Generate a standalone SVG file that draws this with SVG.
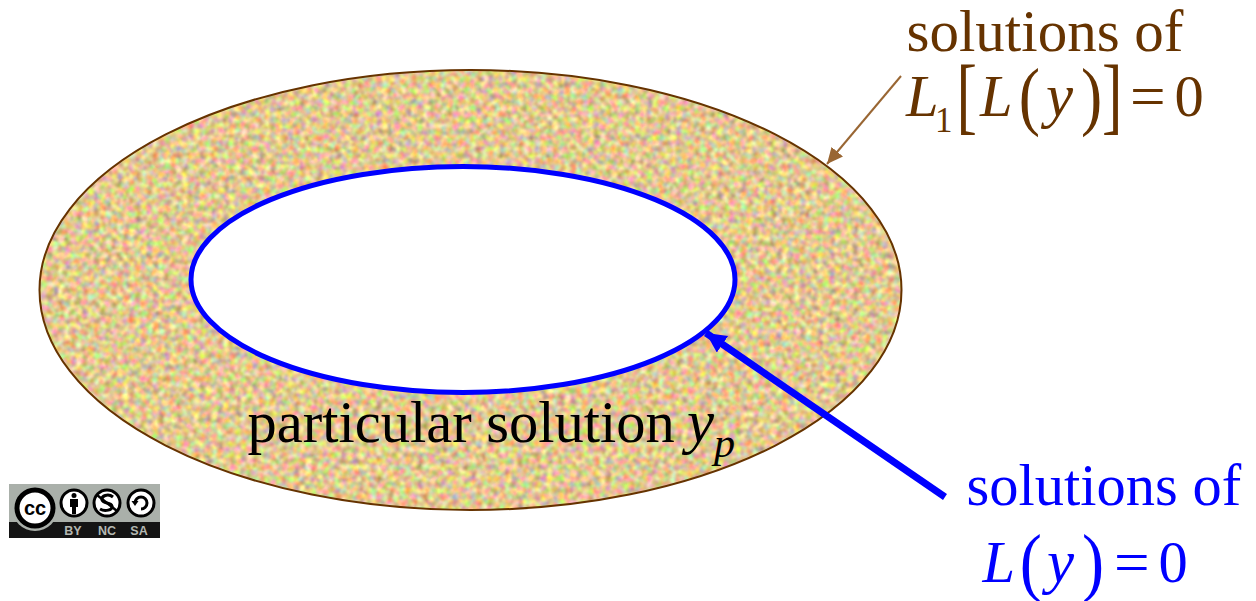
<svg xmlns="http://www.w3.org/2000/svg" width="1256" height="601" viewBox="0 0 1256 601">
<style>
text{font-family:"Liberation Serif","Times New Roman",serif}
.t{font-size:58.5px}
.w{font-size:59px}
.i{font-style:italic}
.v{font-size:61px;font-style:italic}
.f{font-size:58px}
.br{fill:#663300}
.bl{fill:#0000ff}
.cc{font-family:"Liberation Sans",Arial,sans-serif;font-size:12.500px;font-weight:700;fill:#b4b8b2;text-anchor:middle}
.ring{fill:#fff;stroke:#000;stroke-width:3}
</style>
<defs>
<filter id="noise" x="0" y="0" width="1" height="1" color-interpolation-filters="sRGB">
<feTurbulence type="fractalNoise" baseFrequency="0.17" numOctaves="2" seed="7" result="n"/>
<feGaussianBlur in="n" stdDeviation="1" result="b"/>
<feColorMatrix in="b" type="matrix" values="0.85 0 0 0 0.46  0 0.85 0 0 0.36  0 0 0.85 0 0.14  0 0 0 0 1" result="c"/>
<feComposite in="c" in2="SourceAlpha" operator="in"/>
</filter>
<marker id="ah-br" markerUnits="userSpaceOnUse" markerWidth="18" markerHeight="16" refX="16" refY="7.5" orient="auto"><path d="M0 0L16 7.5L0 15Z" fill="#996633"/></marker>
<marker id="ah-bl" markerUnits="userSpaceOnUse" markerWidth="22" markerHeight="22" refX="20" refY="10" orient="auto"><path d="M0 0L20 10L0 20Z" fill="#0000ff"/></marker>
</defs>
<g id="outer-set">
<ellipse cx="470.5" cy="290" rx="431" ry="220" fill="#d8c080" filter="url(#noise)"/>
<ellipse cx="470.5" cy="290" rx="431" ry="220" fill="none" stroke="#663300" stroke-width="2"/>
</g>
<g id="inner-set">
<ellipse cx="463" cy="279.500" rx="272" ry="113" fill="#fff" stroke="#0000ff" stroke-width="5"/>
</g>
<g id="connectors">
<line x1="901" y1="76" x2="827" y2="164" stroke="#996633" stroke-width="2" marker-end="url(#ah-br)"/>
<line x1="945" y1="497" x2="706" y2="333" stroke="#0000ff" stroke-width="7" marker-end="url(#ah-bl)"/>
</g>
<g id="label-particular">
<text class="t" x="247.500" y="442">particular solution</text>
<text class="v" x="687" y="442">y</text>
<text class="i" x="714" y="457" font-size="42">p</text>
</g>
<g id="label-outer" class="br">
<text class="w" x="906.500" y="51">solutions of</text>
<text class="t i" x="906" y="116">L</text>
<text x="935" y="132" font-size="35">1</text>
<text class="f" transform="translate(956.600 123.700) scale(1.06 1.47)">[</text>
<text class="t i" x="980" y="116">L</text>
<text class="f" transform="translate(1018.800 120.500) scale(1.1 1.31)">(</text>
<text class="v" x="1046" y="116">y</text>
<text class="f" transform="translate(1081 120.500) scale(1.1 1.31)">)</text>
<text class="f" transform="translate(1102 123.700) scale(1.06 1.47)">]</text>
<text class="t" transform="translate(1130 116) scale(1.08 1)">=</text>
<text class="t" x="1174.500" y="116">0</text>
</g>
<g id="label-inner" class="bl">
<text class="t" x="966.500" y="505">solutions of</text>
<text class="t i" x="982.500" y="582">L</text>
<text class="f" transform="translate(1019.800 586.500) scale(1.145 1.314)">(</text>
<text class="v" x="1047" y="582">y</text>
<text class="f" transform="translate(1082 586.500) scale(1.145 1.314)">)</text>
<text class="t" transform="translate(1114 582) scale(1.08 1)">=</text>
<text class="t" x="1158.500" y="582">0</text>
</g>
<g id="cc-badge">
<rect x="9" y="484" width="151" height="54" fill="#aab0aa"/>
<path d="M9 522H160V538H9Z" fill="#141414"/>
<circle cx="35" cy="508" r="23" fill="#aab0aa"/>
<circle cx="35" cy="508" r="18" class="ring" style="stroke-width:5"/>
<text x="35" y="515" text-anchor="middle" style="font-family:'Liberation Sans',Arial,sans-serif;font-size:20px;font-weight:700">cc</text>
<circle cx="74" cy="503" r="13" class="ring"/>
<circle cx="74" cy="495.500" r="2.500"/>
<path d="M70 499H78V507H76V514H72V507H70Z"/>
<circle cx="107" cy="503" r="13" class="ring"/>
<path d="M97 495L117 511" stroke="#000" stroke-width="2.500"/>
<path d="M113 497C108 493 101 496 102 500C103 504 111 502 112 506C113 510 105 512 100 509" fill="none" stroke="#000" stroke-width="3"/>
<circle cx="141" cy="503" r="13" class="ring"/>
<path d="M135 503a6 6 0 1 1 6 6" fill="none" stroke="#000" stroke-width="3"/>
<path d="M131.500 501H138.500L135 506Z"/>
<text class="cc" x="73" y="535">BY</text>
<text class="cc" x="107" y="535">NC</text>
<text class="cc" x="139" y="535">SA</text>
</g>
</svg>
